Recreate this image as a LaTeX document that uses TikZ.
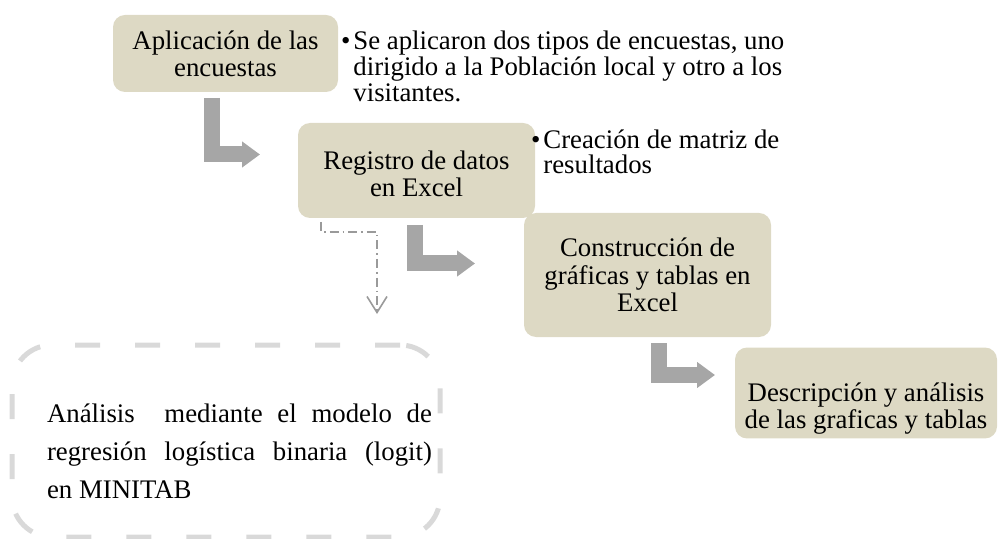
\documentclass[tikz,border=0pt]{standalone}
\usepackage{fontspec}
\setmainfont{Liberation Serif}
\usetikzlibrary{arrows.meta}

\definecolor{tan}{HTML}{DDD9C4}
\definecolor{arrgray}{HTML}{A6A6A6}
\definecolor{linegray}{HTML}{9A9A9A}
\definecolor{framegray}{HTML}{D9D9D9}
% empuja el texto de un paso hacia abajo
\newcommand{\bajar}[1]{\rule{0pt}{#1}}

\begin{document}
\begin{tikzpicture}[x=0.5pt,y=-0.5pt,
    paso/.style={fill=tan,rounded corners=6pt,align=center,inner sep=2pt,font=\fontsize{13.4}{13.6}\selectfont},
    nota/.style={anchor=north west,inner sep=0pt,align=left,font=\fontsize{13.4}{12.8}\selectfont},
    codo/.style={draw=arrgray,line width=8pt,-{Triangle[length=9pt,width=12.5pt]}},
    guia/.style={draw=linegray,line width=0.8pt,dash pattern=on 4.5pt off 2pt on 0.8pt off 2pt,-{Straight Barb[length=8pt,width=10pt]}},
    marco/.style={draw=framegray,line width=2.5pt,dash pattern=on 12.5pt off 17.5pt,rounded corners=20pt}]
    \useasboundingbox (0,0) rectangle (999,539);
    % pasos
    \node[paso,minimum width=112.5pt,minimum height=38.5pt](apl) at (225.5,53.5){Aplicación de las\\encuestas};
    \node[paso,minimum width=118.5pt,minimum height=47.5pt](reg) at (416.5,170.5){\bajar{12.5pt}Registro de datos\\en Excel};
    \node[paso,minimum width=123.5pt,minimum height=62pt](con) at (647.5,275){Construcción de\\gráficas y tablas en\\Excel};
    \node[paso,minimum width=131pt,minimum height=45pt](des) at (866,393){\bajar{25pt}Descripción y análisis\\de las graficas y tablas};
    % notas
    \node[nota](n1) at (353,31){\llap{\textbullet\hspace{1.5pt}}Se aplicaron dos tipos de encuestas, uno\\dirigido a la Población local y otro a los\\visitantes.};
    \node[nota](n2) at (543,129){\llap{\textbullet\hspace{1.5pt}}Creación de matriz de\\resultados};
    % flechas
    \coordinate (a0) at (211.5,98); \coordinate (a1) at (260,154.5);
    \coordinate (b0) at (414.5,225); \coordinate (b1) at (475,263.5);
    \coordinate (c0) at (658.5,343); \coordinate (c1) at (715,375);
    \draw[codo] (a0) |- (a1);
    \draw[codo] (b0) |- (b1);
    \draw[codo] (c0) |- (c1);
    % analisis
    \node[marco,minimum width=214pt,minimum height=96pt](ana) at (226,441){};
    \node[text width=192.5pt,align=justify,inner sep=0pt,font=\fontsize{13.4}{19}\selectfont](anatxt) at (239.5,451){Análisis\ \ mediante el modelo de\linebreak regresión logística binaria (logit)\linebreak en MINITAB};
    \coordinate (p0) at (321,222); \coordinate (p1) at (377,232); \coordinate (p2) at (377,314);
    \draw[guia] (p0) |- (p1) -- (p2);
\end{tikzpicture}
\end{document}
